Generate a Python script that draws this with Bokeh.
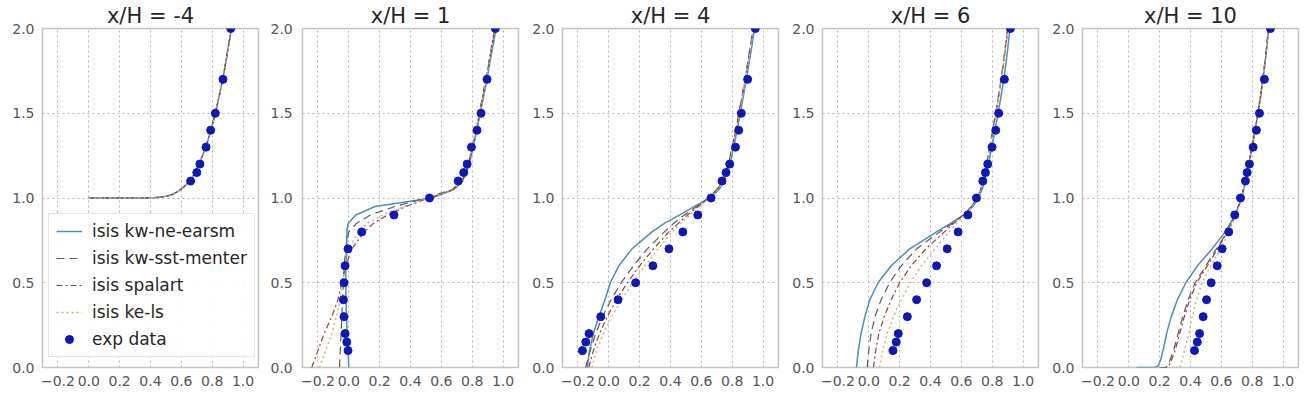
from bokeh.plotting import figure
from bokeh.layouts import row
from bokeh.models import FixedTicker, LinearAxis, Legend, LegendItem, Range1d, CustomJSTickFormatter
from bokeh.embed import file_html
from bokeh.resources import INLINE

# ---------------- data ----------------
titles = ["x/H = -4", "x/H = 1", "x/H = 4", "x/H = 6", "x/H = 10"]
model_labels = ["isis kw-ne-earsm", "isis kw-sst-menter", "isis spalart", "isis ke-ls"]
exp_label = "exp data"

x_ticks = [-0.2, 0.0, 0.2, 0.4, 0.6, 0.8, 1.0]
x_tick_labels = ["\u22120.2", "0.0", "0.2", "0.4", "0.6", "0.8", "1.0"]
y_ticks = [0.0, 0.5, 1.0, 1.5, 2.0]
y_tick_labels = ["0.0", "0.5", "1.0", "1.5", "2.0"]

# experimental profiles (u/Uref at y/H)
exp_y_m4 = [1.1, 1.15, 1.2, 1.3, 1.4, 1.5, 1.7, 2.0]
exp_u_m4 = [0.66, 0.70, 0.72, 0.76, 0.79, 0.82, 0.87, 0.92]
exp_y = [0.1, 0.15, 0.2, 0.3, 0.4, 0.5, 0.6, 0.7, 0.8, 0.9, 1.0, 1.1, 1.15, 1.2, 1.3, 1.4, 1.5, 1.7, 2.0]
exp_u_1 = [-0.005, -0.013, -0.024, -0.031, -0.035, -0.031, -0.024, -0.005, 0.084, 0.293, 0.523,
           0.709, 0.745, 0.767, 0.795, 0.831, 0.857, 0.896, 0.95]
exp_u_4 = [-0.171, -0.149, -0.128, -0.052, 0.06, 0.174, 0.286, 0.39, 0.48, 0.577, 0.663,
           0.734, 0.76, 0.784, 0.821, 0.842, 0.859, 0.90, 0.95]
exp_u_6 = [0.157, 0.178, 0.191, 0.25, 0.31, 0.375, 0.439, 0.508, 0.579, 0.642, 0.698,
           0.739, 0.756, 0.771, 0.799, 0.823, 0.842, 0.879, 0.918]
exp_u_10 = [0.426, 0.444, 0.459, 0.482, 0.504, 0.534, 0.573, 0.605, 0.648, 0.687, 0.724,
            0.756, 0.767, 0.782, 0.806, 0.827, 0.847, 0.879, 0.918]

# model profiles
y_m4 = [1.0, 1.0, 1.002, 1.005, 1.01, 1.02, 1.04, 1.06, 1.1, 1.15, 1.2, 1.3, 1.4, 1.5, 1.6, 1.7, 1.8, 1.9, 2.0]
u_m4_earsm = [0.0, 0.35, 0.42, 0.46, 0.50, 0.54, 0.58, 0.61, 0.655, 0.69, 0.715, 0.758, 0.792, 0.82, 0.845, 0.868, 0.888, 0.906, 0.924]
u_m4_sst = [0.0, 0.35, 0.42, 0.46, 0.50, 0.54, 0.58, 0.61, 0.655, 0.69, 0.715, 0.758, 0.792, 0.82, 0.845, 0.868, 0.888, 0.906, 0.924]
u_m4_spalart = [0.0, 0.35, 0.42, 0.46, 0.50, 0.54, 0.58, 0.61, 0.655, 0.69, 0.715, 0.758, 0.792, 0.82, 0.845, 0.868, 0.888, 0.906, 0.924]
u_m4_kels = [0.0, 0.35, 0.42, 0.46, 0.50, 0.54, 0.58, 0.61, 0.655, 0.69, 0.715, 0.758, 0.792, 0.82, 0.845, 0.868, 0.888, 0.906, 0.924]

y_mod = [0.0, 0.1, 0.2, 0.3, 0.4, 0.5, 0.6, 0.7, 0.8, 0.85, 0.9, 0.95, 1.0, 1.05, 1.1, 1.2, 1.3, 1.4, 1.5, 1.6, 1.7, 1.8, 1.9, 2.0]
u_1_earsm = [0.0, -0.005, -0.01, -0.015, -0.018, -0.02, -0.018, -0.015, -0.012, -0.005, 0.045, 0.17, 0.54, 0.68,
             0.738, 0.782, 0.807, 0.830, 0.852, 0.874, 0.895, 0.915, 0.935, 0.955]
u_1_sst = [-0.06, -0.055, -0.05, -0.045, -0.04, -0.035, -0.03, -0.02, 0.0, 0.05, 0.14, 0.30, 0.50, 0.67,
           0.735, 0.777, 0.802, 0.826, 0.848, 0.869, 0.889, 0.909, 0.929, 0.948]
u_1_spalart = [-0.24, -0.20, -0.16, -0.11, -0.07, -0.045, -0.02, 0.02, 0.10, 0.16, 0.25, 0.37, 0.52, 0.68,
               0.735, 0.775, 0.80, 0.824, 0.846, 0.867, 0.887, 0.907, 0.926, 0.945]
u_1_kels = [-0.19, -0.15, -0.11, -0.08, -0.055, -0.04, -0.025, 0.0, 0.06, 0.12, 0.22, 0.36, 0.52, 0.69,
            0.74, 0.778, 0.803, 0.827, 0.849, 0.87, 0.89, 0.91, 0.93, 0.95]

u_4_earsm = [-0.14, -0.125, -0.10, -0.065, -0.025, 0.01, 0.065, 0.15, 0.28, 0.36, 0.46, 0.555, 0.655, 0.715,
             0.745, 0.785, 0.81, 0.832, 0.852, 0.872, 0.892, 0.91, 0.928, 0.945]
u_4_sst = [-0.15, -0.12, -0.085, -0.04, 0.015, 0.08, 0.16, 0.25, 0.36, 0.42, 0.49, 0.57, 0.645, 0.70,
           0.735, 0.775, 0.80, 0.822, 0.843, 0.863, 0.883, 0.90, 0.918, 0.935]
u_4_spalart = [-0.13, -0.10, -0.06, -0.01, 0.05, 0.12, 0.20, 0.29, 0.39, 0.45, 0.51, 0.58, 0.65, 0.705,
               0.737, 0.776, 0.801, 0.823, 0.844, 0.864, 0.884, 0.901, 0.919, 0.936]
u_4_kels = [-0.11, -0.08, -0.035, 0.02, 0.085, 0.155, 0.235, 0.32, 0.41, 0.465, 0.525, 0.59, 0.655, 0.71,
            0.74, 0.779, 0.804, 0.826, 0.847, 0.867, 0.887, 0.904, 0.922, 0.939]

u_6_earsm = [-0.08, -0.068, -0.05, -0.025, 0.007, 0.06, 0.145, 0.265, 0.44, 0.53, 0.615, 0.675, 0.71, 0.735,
             0.75, 0.775, 0.797, 0.818, 0.838, 0.857, 0.875, 0.89, 0.903, 0.915]
u_6_sst = [-0.01, 0.0, 0.015, 0.04, 0.08, 0.135, 0.21, 0.31, 0.46, 0.54, 0.615, 0.665, 0.70, 0.725,
           0.74, 0.762, 0.783, 0.803, 0.822, 0.84, 0.857, 0.872, 0.886, 0.90]
u_6_spalart = [0.03, 0.045, 0.065, 0.10, 0.145, 0.20, 0.275, 0.37, 0.49, 0.55, 0.615, 0.665, 0.70, 0.725,
               0.741, 0.764, 0.785, 0.805, 0.824, 0.842, 0.859, 0.874, 0.888, 0.902]
u_6_kels = [0.07, 0.09, 0.12, 0.16, 0.21, 0.27, 0.34, 0.43, 0.52, 0.57, 0.625, 0.67, 0.70, 0.726,
            0.742, 0.765, 0.786, 0.806, 0.825, 0.843, 0.86, 0.875, 0.889, 0.903]

y_10 = [0.0, 0.0, 0.01, 0.04, 0.1, 0.2, 0.3, 0.4, 0.5, 0.6, 0.7, 0.8, 0.9, 1.0, 1.1, 1.2, 1.3, 1.4, 1.5, 1.6, 1.7, 1.8, 1.9, 2.0]
u_10_earsm = [0.05, 0.17, 0.19, 0.205, 0.222, 0.245, 0.275, 0.315, 0.37, 0.445, 0.54, 0.625, 0.69, 0.732,
              0.757, 0.778, 0.80, 0.82, 0.838, 0.855, 0.87, 0.884, 0.896, 0.907]
u_10_sst = [0.20, 0.24, 0.25, 0.265, 0.29, 0.32, 0.35, 0.385, 0.43, 0.50, 0.568, 0.637, 0.69, 0.73,
            0.755, 0.776, 0.798, 0.818, 0.836, 0.853, 0.868, 0.882, 0.894, 0.905]
u_10_spalart = [0.21, 0.25, 0.26, 0.275, 0.30, 0.33, 0.36, 0.395, 0.44, 0.51, 0.575, 0.64, 0.69, 0.73,
                0.755, 0.776, 0.798, 0.818, 0.836, 0.853, 0.868, 0.882, 0.894, 0.905]
u_10_kels = [0.30, 0.33, 0.335, 0.345, 0.36, 0.39, 0.41, 0.44, 0.475, 0.53, 0.595, 0.65, 0.695, 0.732,
             0.756, 0.777, 0.799, 0.819, 0.837, 0.854, 0.869, 0.883, 0.895, 0.906]

panels = [
    dict(exp=(exp_u_m4, exp_y_m4), models=[(u_m4_earsm, y_m4), (u_m4_sst, y_m4), (u_m4_spalart, y_m4), (u_m4_kels, y_m4)]),
    dict(exp=(exp_u_1, exp_y), models=[(u_1_earsm, y_mod), (u_1_sst, y_mod), (u_1_spalart, y_mod), (u_1_kels, y_mod)]),
    dict(exp=(exp_u_4, exp_y), models=[(u_4_earsm, y_mod), (u_4_sst, y_mod), (u_4_spalart, y_mod), (u_4_kels, y_mod)]),
    dict(exp=(exp_u_6, exp_y), models=[(u_6_earsm, y_mod), (u_6_sst, y_mod), (u_6_spalart, y_mod), (u_6_kels, y_mod)]),
    dict(exp=(exp_u_10, exp_y), models=[(u_10_earsm, y_10), (u_10_sst, y_10), (u_10_spalart, y_10), (u_10_kels, y_10)]),
]

# ---------------- styles ----------------
FONT = "DejaVu Sans"
TICK_COLOR = "#555555"
line_styles = [
    dict(line_color="#4a8fc0", line_width=1.5, line_dash="solid"),
    dict(line_color="#5c5c5c", line_width=1.2, line_dash="8 5"),
    dict(line_color="#9a3a3a", line_width=1.2, line_dash="6 3 2 3"),
    dict(line_color="#c8b27a", line_width=1.4, line_dash="2 3"),
]
EXP_COLOR = "#0c18b8"

LABEL_JS = """
let best = 0, d = Infinity;
for (let k = 0; k < vals.length; k++) {
  const e = Math.abs(vals[k] - tick);
  if (e < d) { d = e; best = k; }
}
return labs[best];
"""


def style_axis(ax, ticks, labels, standoff):
    ax.ticker = FixedTicker(ticks=ticks)
    ax.formatter = CustomJSTickFormatter(args=dict(vals=ticks, labs=labels), code=LABEL_JS)
    ax.major_label_text_font = FONT
    ax.major_label_text_font_size = "14px"
    ax.major_label_text_color = TICK_COLOR
    ax.major_tick_line_color = None
    ax.minor_tick_line_color = None
    ax.axis_line_color = None
    ax.major_tick_out = 0
    ax.major_tick_in = 0
    ax.major_label_standoff = standoff


figs = []
widths = [300, 220, 260, 260, 260]
for i, pan in enumerate(panels):
    left = 2 if i == 1 else 42
    right = 42 if i == 0 else 2
    p = figure(width=widths[i], height=401,
               x_range=Range1d(-0.3, 1.1), y_range=Range1d(0.0, 2.0),
               y_axis_location=None if i == 1 else "left",
               min_border_left=left, min_border_right=right,
               min_border_top=27, min_border_bottom=34,
               toolbar_location=None, output_backend="svg", title=titles[i])
    p.title.text_font = FONT
    p.title.text_font_size = "21px"
    p.title.text_font_style = "normal"
    p.title.text_color = "#262626"
    p.title.align = "center"
    p.title.standoff = 2
    p.title.offset = 0
    p.background_fill_color = "white"
    p.border_fill_color = "white"
    p.outline_line_color = "#c4c4c4"
    p.outline_line_width = 1.5

    for ax in p.xaxis:
        style_axis(ax, x_ticks, x_tick_labels, 8)
    if i != 1:
        for ax in p.yaxis:
            style_axis(ax, y_ticks, y_tick_labels, 8)

    p.xgrid.ticker = FixedTicker(ticks=x_ticks)
    p.ygrid.ticker = FixedTicker(ticks=y_ticks)
    for g in (p.xgrid, p.ygrid):
        g.grid_line_color = "#b4b4b4"
        g.grid_line_dash = "2 3"
        g.grid_line_width = 1

    rends = []
    for (u, y), st in zip(pan["models"], line_styles):
        rends.append(p.line(u, y, **st))
    eu, ey = pan["exp"]
    rends.append(p.scatter(eu, ey, marker="circle", size=8, fill_color=EXP_COLOR, line_color=EXP_COLOR))

    if i == 0:
        # y tick labels of the neighbouring panel (same range)
        rax = LinearAxis()
        style_axis(rax, y_ticks, y_tick_labels, 12)
        p.add_layout(rax, "right")

        items = [LegendItem(label=lab, renderers=[r]) for lab, r in zip(model_labels + [exp_label], rends)]
        leg = Legend(items=items, location=(6, 10))
        leg.label_text_font = FONT
        leg.label_text_font_size = "17px"
        leg.label_text_color = "#262626"
        leg.glyph_width = 26
        leg.glyph_height = 20
        leg.label_height = 20
        leg.label_standoff = 10
        leg.spacing = 7
        leg.padding = 7
        leg.margin = 0
        leg.border_line_color = "#cccccc"
        leg.border_line_width = 1
        leg.background_fill_color = "white"
        leg.background_fill_alpha = 0.9
        p.add_layout(leg)
    figs.append(p)

layout = row(*figs, spacing=0)
open("out.html", "w").write(file_html(layout, INLINE))
